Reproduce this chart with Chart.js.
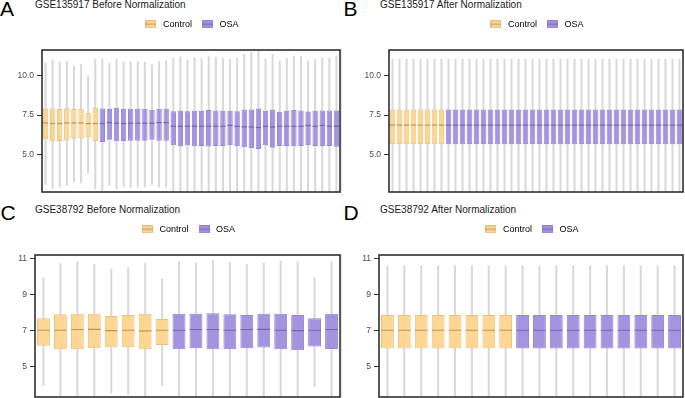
<!DOCTYPE html>
<html lang="en">
<head>
<meta charset="UTF-8">
<title>Normalization boxplots</title>
<script src="https://cdn.jsdelivr.net/npm/chart.js"></script>
<style>
  body { margin: 0; background: #fff; width: 685px; height: 398px; position: relative; overflow: hidden;
         font-family: "Liberation Sans", Arial, sans-serif; }
  canvas { position: absolute; }
  .letter { position: absolute; font-size: 21px; line-height: 21px; color: #000; }
  .title { position: absolute; font-size: 10px; line-height: 10px; color: #1a1a1a; white-space: nowrap; }
  .sep { position: absolute; width: 1px; background: #e2e2e2; }
</style>
</head>
<body>
<div class="letter" style="left:0px;top:-2px">A</div>
<div class="title" style="left:35px;top:0px">GSE135917 Before Normalization</div>
<div class="letter" style="left:343.5px;top:-2px">B</div>
<div class="title" style="left:380px;top:0px">GSE135917 After Normalization</div>
<div class="letter" style="left:0.5px;top:202px">C</div>
<div class="title" style="left:35px;top:205px">GSE38792 Before Normalization</div>
<div class="letter" style="left:343.5px;top:202px">D</div>
<div class="title" style="left:380px;top:205px">GSE38792 After Normalization</div>
<div class="sep" style="left:341px;top:48px;height:148px"></div>
<div class="sep" style="left:341px;top:253px;height:145px"></div>

<canvas id="chartA" width="342" height="196" style="left:0;top:0"></canvas>
<canvas id="chartB" width="343" height="196" style="left:342px;top:0"></canvas>
<canvas id="chartC" width="342" height="202" style="left:0;top:196px"></canvas>
<canvas id="chartD" width="343" height="202" style="left:342px;top:196px"></canvas>

<script>
// ---- data ----
// GSE135917: 8 control + 34 OSA samples
const groupsA = [].concat(Array(8).fill('Control'), Array(34).fill('OSA'));
const aQ3 = [7.92,7.92,7.88,7.94,7.88,7.90,7.65,7.96,
  7.92,7.88,7.96,7.90,7.90,7.90,7.90,7.84,7.90,7.90,
  7.75,7.80,7.75,7.77,7.77,7.82,7.80,7.77,7.77,7.75,7.86,7.86,7.92,7.77,7.86,7.71,7.77,7.82,7.80,7.73,7.77,7.80,7.80,7.80];
const aQ1 = [5.98,5.85,5.87,5.90,6.01,6.02,6.09,5.85,
  5.81,5.94,5.85,5.87,5.88,5.89,5.88,5.94,5.89,5.89,
  5.60,5.54,5.58,5.54,5.56,5.52,5.56,5.56,5.60,5.54,5.47,5.41,5.37,5.60,5.45,5.56,5.56,5.54,5.56,5.62,5.56,5.56,5.56,5.50];
const aMed = [7.01,6.97,6.97,7.01,7.01,7.01,6.97,6.97,
  6.97,7.03,6.99,6.97,6.99,6.99,6.99,6.99,7.03,7.03,
  6.80,6.80,6.80,6.80,6.80,6.80,6.80,6.80,6.85,6.80,6.76,6.76,6.72,6.80,6.76,6.80,6.80,6.80,6.80,6.85,6.80,6.85,6.80,6.80];
const aHi = [10.77,10.98,10.85,10.92,10.60,10.70,9.97,11.03,
  11.04,10.77,11.04,10.88,10.88,10.88,10.85,10.66,10.88,10.92,
  11.09,11.19,10.98,11.13,11.09,11.23,11.15,11.09,11.02,11.09,11.34,11.47,11.70,11.04,11.34,10.92,11.09,11.23,11.19,10.92,11.04,11.13,11.09,11.23];
const aLo = [3.11,2.86,2.96,3.07,3.28,3.23,3.81,2.83,
  2.75,3.07,2.82,2.96,2.92,2.96,2.96,3.11,2.96,2.96,
  2.40,2.40,2.40,2.40,2.40,2.40,2.40,2.40,2.40,2.40,2.40,2.40,2.40,2.40,2.40,2.40,2.40,2.40,2.40,2.40,2.40,2.40,2.40,2.40];

const bQ3 = [7.86,7.86,7.86,7.86,7.86,7.86,7.86,7.86,7.86,7.86,7.86,7.86,7.86,7.86,7.86,7.86,7.86,7.86,7.86,7.86,7.86,
  7.86,7.86,7.86,7.86,7.86,7.86,7.86,7.86,7.86,7.86,7.86,7.86,7.86,7.86,7.86,7.86,7.86,7.86,7.86,7.86,7.86];
const bQ1 = [5.66,5.66,5.66,5.66,5.66,5.66,5.66,5.66,5.66,5.66,5.66,5.66,5.66,5.66,5.66,5.66,5.66,5.66,5.66,5.66,5.66,
  5.66,5.66,5.66,5.66,5.66,5.66,5.66,5.66,5.66,5.66,5.66,5.66,5.66,5.66,5.66,5.66,5.66,5.66,5.66,5.66,5.66];
const bMed = [6.87,6.87,6.87,6.87,6.87,6.87,6.87,6.87,6.87,6.87,6.87,6.87,6.87,6.87,6.87,6.87,6.87,6.87,6.87,6.87,6.87,
  6.87,6.87,6.87,6.87,6.87,6.87,6.87,6.87,6.87,6.87,6.87,6.87,6.87,6.87,6.87,6.87,6.87,6.87,6.87,6.87,6.87];
const bHi = [11.03,11.03,11.03,11.03,11.03,11.03,11.03,11.03,11.03,11.03,11.03,11.03,11.03,11.03,11.03,11.03,11.03,11.03,11.03,11.03,11.03,
  11.03,11.03,11.03,11.03,11.03,11.03,11.03,11.03,11.03,11.03,11.03,11.03,11.03,11.03,11.03,11.03,11.03,11.03,11.03,11.03,11.03];
const bLo = [2.40,2.40,2.40,2.40,2.40,2.40,2.40,2.40,2.40,2.40,2.40,2.40,2.40,2.40,2.40,2.40,2.40,2.40,2.40,2.40,2.40,
  2.40,2.40,2.40,2.40,2.40,2.40,2.40,2.40,2.40,2.40,2.40,2.40,2.40,2.40,2.40,2.40,2.40,2.40,2.40,2.40,2.40];

// GSE38792: 8 control + 10 OSA samples
const groupsC = [].concat(Array(8).fill('Control'), Array(10).fill('OSA'));
const cQ3 = [7.67,7.89,7.91,7.91,7.79,7.85,7.91,7.63, 7.91,7.91,7.94,7.89,7.85,7.91,7.91,7.85,7.67,7.91];
const cQ1 = [6.14,5.94,5.94,6.00,6.06,6.06,5.94,6.18, 5.94,6.00,5.94,5.94,6.00,6.04,5.94,5.89,6.09,5.96];
const cMed = [7.00,7.00,7.04,7.05,6.98,7.00,6.96,7.00, 7.00,7.04,7.04,7.00,7.04,7.05,7.00,6.98,7.00,7.04];
const cHi = [9.92,10.72,10.81,10.67,10.41,10.48,10.72,9.85, 10.81,10.72,10.90,10.78,10.67,10.72,10.85,10.81,9.92,10.81];
const cLo = [3.92,3.10,3.10,3.10,3.50,3.44,3.10,3.92, 3.10,3.10,3.10,3.10,3.10,3.10,3.10,3.10,3.87,3.10];

const dQ3 = [7.85,7.85,7.85,7.85,7.85,7.85,7.85,7.85,7.85,7.85,7.85,7.85,7.85,7.85,7.85,7.85,7.85,7.85];
const dQ1 = [5.98,5.98,5.98,5.98,5.98,5.98,5.98,5.98,5.98,5.98,5.98,5.98,5.98,5.98,5.98,5.98,5.98,5.98];
const dMed = [7.00,7.00,7.00,7.00,7.00,7.00,7.00,7.00,7.00,7.00,7.00,7.00,7.00,7.00,7.00,7.00,7.00,7.00];
const dHi = [10.59,10.59,10.59,10.59,10.59,10.59,10.59,10.59,10.59,10.59,10.59,10.59,10.59,10.59,10.59,10.59,10.59,10.59];
const dLo = [3.10,3.10,3.10,3.10,3.10,3.10,3.10,3.10,3.10,3.10,3.10,3.10,3.10,3.10,3.10,3.10,3.10,3.10];

const ticksAB = [5, 7.5, 10];
const ticksCD = [5, 7, 9, 11];
const legendNames = ['Control', 'OSA'];

// ---- styling ----
const FONT = '"Liberation Sans", Arial, sans-serif';
const COLORS = {
  Control: { fill: '#FDD693', border: '#E6C07F', median: '#B8975E' },
  OSA: { fill: '#A493DF', border: '#9685D5', median: '#7463B0' }
};
const WHISKER = '#d9d9d9';

// small legend icon: filled box with a median line
function legendIcon(c) {
  const cv = document.createElement('canvas');
  cv.width = 11; cv.height = 8;
  const g = cv.getContext('2d');
  g.fillStyle = c.fill; g.fillRect(0, 0, 11, 8);
  g.strokeStyle = c.border; g.lineWidth = 1; g.strokeRect(0.5, 0.5, 10, 7);
  g.strokeStyle = c.median; g.beginPath(); g.moveTo(0, 4); g.lineTo(11, 4); g.stroke();
  return cv;
}
const icons = {};
legendNames.forEach(n => { icons[n] = legendIcon(COLORS[n]); });

const framePlugin = {
  id: 'frame',
  afterDraw(chart) {
    const { ctx, chartArea: a } = chart;
    ctx.save();
    ctx.strokeStyle = '#222';
    ctx.lineWidth = 1.5;
    ctx.strokeRect(a.left, a.top, a.right - a.left, a.bottom - a.top);
    ctx.restore();
  }
};

function boxChart(id, o) {
  const labels = o.groups.map((g, i) => g + ' ' + (i + 1));
  o.gap = 11.5;
  const chart = new Chart(document.getElementById(id), {
    type: 'bar',
    data: {
      labels: labels,
      datasets: [
        {
          label: 'whisker',
          data: o.lo.map((v, i) => [v, o.hi[i]]),
          backgroundColor: WHISKER,
          barThickness: 1.4,
          grouped: false,
          order: 3
        },
        {
          label: 'box',
          data: o.q1.map((v, i) => [v, o.q3[i]]),
          backgroundColor: o.groups.map(g => COLORS[g].fill),
          borderColor: o.groups.map(g => COLORS[g].border),
          borderWidth: 1,
          borderSkipped: false,
          barPercentage: o.boxPct,
          categoryPercentage: 1,
          grouped: false,
          order: 2
        },
        {
          type: 'line',
          label: 'median',
          data: o.med,
          showLine: false,
          pointStyle: 'line',
          pointRadius: o.medRadius,
          pointHoverRadius: o.medRadius,
          pointBorderWidth: 1.2,
          pointBorderColor: o.groups.map(g => COLORS[g].median),
          order: 1
        }
      ]
    },
    options: {
      responsive: false,
      animation: false,
      layout: { autoPadding: false, padding: Object.assign({}, o.pad) },
      plugins: {
        tooltip: { enabled: false },
        legend: {
          position: 'top',
          fullSize: false,
          labels: {
            usePointStyle: true,
            pointStyleWidth: 15,
            padding: 8,
            color: '#333',
            font: { size: 9, family: FONT },
            generateLabels: () => legendNames.map((n, i) => ({
              text: n, pointStyle: icons[n], fillStyle: COLORS[n].fill,
              strokeStyle: COLORS[n].border, lineWidth: 0, hidden: false, datasetIndex: i
            }))
          },
          onClick: () => {}
        }
      },
      scales: {
        x: {
          position: 'top',
          offset: true,
          grid: { display: false },
          ticks: { display: false },
          border: { display: false },
          afterFit: s => { s.height = o.gap; }
        },
        y: {
          min: o.yMin,
          max: o.yMax,
          // fixed axis width, and no extra room reserved for end labels
          afterFit: s => { s.width = o.axisWidth; s.paddingTop = 0; s.paddingBottom = 0; },
          afterBuildTicks: s => { s.ticks = o.yTicks.map(v => ({ value: v })); },
          ticks: {
            callback: v => Number(v).toFixed(o.decimals),
            color: '#4d4d4d',
            font: { size: 8.5, family: FONT },
            padding: 3
          },
          grid: { display: true, drawOnChartArea: false, drawTicks: true, tickLength: 5, color: '#333', lineWidth: 1 },
          border: { display: false }
        }
      }
    },
    plugins: [framePlugin]
  });

  // nudge paddings so legend and plot frame sit where the figure has them
  const a = chart.chartArea;
  const hb = chart.legend.legendHitBoxes[0];
  const dLegend = o.target.legend - (hb.top + hb.height / 2);
  o.pad.top += dLegend;
  o.gap += (o.target.top - a.top) - dLegend;
  o.pad.bottom = Math.max(0, o.pad.bottom + a.bottom - o.target.bottom);
  chart.options.layout.padding = Object.assign({}, o.pad);
  chart.update();
  return chart;
}

boxChart('chartA', { groups: groupsA, q1: aQ1, q3: aQ3, med: aMed, lo: aLo, hi: aHi,
  yMin: 2.65, yMax: 11.61, yTicks: ticksAB, decimals: 1, axisWidth: 42, boxPct: 0.76, medRadius: 2.7,
  pad: { top: 11.5, left: 0, right: 2, bottom: 4 }, target: { legend: 24.3, top: 50, bottom: 192 } });
boxChart('chartB', { groups: groupsA, q1: bQ1, q3: bQ3, med: bMed, lo: bLo, hi: bHi,
  yMin: 2.65, yMax: 11.61, yTicks: ticksAB, decimals: 1, axisWidth: 47, boxPct: 0.8, medRadius: 2.8,
  pad: { top: 11.5, left: 0, right: 2, bottom: 4 }, target: { legend: 24.3, top: 50, bottom: 192 } });
boxChart('chartC', { groups: groupsC, q1: cQ1, q3: cQ3, med: cMed, lo: cLo, hi: cHi,
  yMin: 3.29, yMax: 11.18, yTicks: ticksCD, decimals: 0, axisWidth: 35, boxPct: 0.76, medRadius: 6.3,
  pad: { top: 20.5, left: 0, right: 2, bottom: 1 }, target: { legend: 33.3, top: 59, bottom: 201 } });
boxChart('chartD', { groups: groupsC, q1: dQ1, q3: dQ3, med: dMed, lo: dLo, hi: dHi,
  yMin: 3.29, yMax: 11.18, yTicks: ticksCD, decimals: 0, axisWidth: 37, boxPct: 0.76, medRadius: 6.3,
  pad: { top: 20.5, left: 0, right: 2, bottom: 1 }, target: { legend: 33.3, top: 59, bottom: 201 } });
</script>
</body>
</html>
